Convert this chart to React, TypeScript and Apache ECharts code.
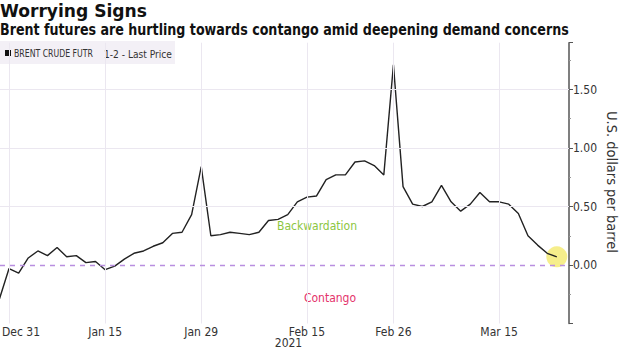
import React, { useEffect, useRef } from "react";
import * as echarts from "echarts";

const dates = [
  "Dec 30", "Dec 31",
  "Jan 4", "Jan 5", "Jan 6", "Jan 7", "Jan 8",
  "Jan 11", "Jan 12", "Jan 13", "Jan 14", "Jan 15",
  "Jan 18", "Jan 19", "Jan 20", "Jan 21", "Jan 22",
  "Jan 25", "Jan 26", "Jan 27", "Jan 28", "Jan 29",
  "Feb 1", "Feb 2", "Feb 3", "Feb 4", "Feb 5",
  "Feb 8", "Feb 9", "Feb 10", "Feb 11", "Feb 12",
  "Feb 15", "Feb 16", "Feb 17", "Feb 18", "Feb 19",
  "Feb 22", "Feb 23", "Feb 24", "Feb 25", "Feb 26",
  "Mar 1", "Mar 2", "Mar 3", "Mar 4", "Mar 5",
  "Mar 8", "Mar 9", "Mar 10", "Mar 11", "Mar 12",
  "Mar 15", "Mar 16", "Mar 17", "Mar 18", "Mar 19",
  "Mar 22", "Mar 23",
];

const spread = [
  -0.29, -0.03,
  -0.07, 0.06, 0.12, 0.08, 0.15,
  0.07, 0.08, 0.02, 0.03, -0.04,
  -0.01, 0.05, 0.10, 0.12, 0.16,
  0.19, 0.27, 0.28, 0.43, 0.84,
  0.25, 0.26, 0.28, 0.27, 0.26,
  0.28, 0.38, 0.39, 0.43, 0.54,
  0.58, 0.59, 0.73, 0.77, 0.77,
  0.88, 0.89, 0.85, 0.77, 1.71,
  0.67, 0.52, 0.50, 0.54, 0.68,
  0.54, 0.46, 0.52, 0.62, 0.54,
  0.54, 0.52, 0.44, 0.25, 0.17,
  0.10, 0.07,
];

const tickDates = ["Dec 31", "Jan 15", "Jan 29", "Feb 15", "Feb 26", "Mar 15"];
const yGridValues = [0.5, 1.0, 1.5];

const title = "Worrying Signs";
const subtitle = "Brent futures are hurtling towards contango amid deepening demand concerns";
const seriesName = "BRENT CRUDE FUTR";
const seriesField = "1-2 - Last Price";
const yName = "U.S. dollars per barrel";
const yearLabel = "2021";

const FONT = "'DejaVu Sans Condensed', 'DejaVu Sans', sans-serif";
const BOLD = "'DejaVu Sans Condensed', 'DejaVu Sans', sans-serif";

function fitScale(text: string, font: string, target: number): number {
  const c = document.createElement("canvas");
  const ctx = c.getContext("2d");
  if (!ctx) return 1;
  ctx.font = font;
  const w = ctx.measureText(text).width;
  return w > 0 ? target / w : 1;
}

export default function App() {
  const ref = useRef<HTMLDivElement>(null);

  useEffect(() => {
    if (!ref.current) return;
    const chart = echarts.init(ref.current, null, { renderer: "svg" });
    const tickIdx = tickDates.map((d) => dates.indexOf(d));
    const lineData = spread.map((v, i) => [i, v]);
    const last = lineData[lineData.length - 1];

    const gridLine = { color: "#ebe7f0", width: 1, type: "solid" };

    const titleFont = `bold 18.5px ${BOLD}`;
    const subFont = `bold 15px ${BOLD}`;
    const legFont = `10.5px ${FONT}`;

    const textEl = (text: string, font: string, x: number, y: number, target: number, fill: string) => ({
      type: "text",
      x,
      y,
      scaleX: fitScale(text, font, target),
      style: { text, font, fill, textAlign: "left", textVerticalAlign: "middle" },
    });

    chart.setOption({
      animation: false,
      backgroundColor: "#ffffff",
      grid: {
        left: 0,
        right: 51,
        top: 42.7,
        bottom: 27.5,
        containLabel: false,
        outerBoundsMode: "none",
      },
      xAxis: {
        type: "value",
        min: 0.06,
        max: 59.27,
        axisLine: { show: false },
        axisTick: { show: false },
        splitLine: { show: false },
        axisLabel: {
          customValues: tickIdx,
          margin: 2,
          fontSize: 12,
          fontFamily: FONT,
          color: "#333",
          formatter: (v: number) => {
            const i = Math.round(v);
            return i === tickIdx[0] ? `{first|${dates[i]}}` : dates[i] || "";
          },
          rich: {
            first: { padding: [0, 0, 0, 24], fontSize: 12, fontFamily: FONT, color: "#333" },
          },
        },
      },
      yAxis: {
        type: "value",
        position: "right",
        min: -0.5,
        max: 1.9,
        interval: 0.5,
        axisLine: { show: true, onZero: false, lineStyle: { color: "#555", width: 1.5 } },
        axisTick: { show: true, length: 4, lineStyle: { color: "#555" } },
        minorTick: { show: true, splitNumber: 2, length: 2, lineStyle: { color: "#999" } },
        splitLine: { show: false },
        axisLabel: {
          margin: 4,
          fontSize: 12,
          fontFamily: FONT,
          color: "#333",
          formatter: (v: number) => (v < -0.01 || v > 1.8 ? "" : v.toFixed(2)),
        },
      },
      graphic: [
        textEl(title, titleFont, 0, 11, 147, "#111"),
        textEl(subtitle, subFont, 0, 29.5, 569, "#111"),
        {
          type: "rect",
          shape: { x: 0, y: 41, width: 175, height: 23 },
          style: { fill: "#f3f0f6" },
          z: 0,
        },
        {
          type: "rect",
          shape: { x: 5, y: 50, width: 6, height: 6 },
          style: { fill: "#111" },
        },
        textEl(seriesName, legFont, 14, 53.5, 79, "#333"),
        textEl(seriesField, legFont, 104, 53.5, 68, "#333"),
        {
          type: "text",
          x: 612,
          y: 182,
          rotation: -Math.PI / 2,
          style: { text: yName, font: `14.5px ${FONT}`, fill: "#333", textAlign: "center", textVerticalAlign: "middle" },
        },
        {
          type: "text",
          x: 317,
          y: 226,
          style: { text: "Backwardation", font: `12px ${FONT}`, fill: "#8cc63f", textAlign: "center", textVerticalAlign: "middle" },
        },
        {
          type: "text",
          x: 330,
          y: 298,
          style: { text: "Contango", font: `12px ${FONT}`, fill: "#e4336b", textAlign: "center", textVerticalAlign: "middle" },
        },
        {
          type: "text",
          x: 288.5,
          y: 343,
          style: { text: yearLabel, font: `12px ${FONT}`, fill: "#333", textAlign: "center", textVerticalAlign: "middle" },
        },
      ],
      series: [
        {
          name: "grid",
          type: "line",
          data: [],
          z: 1,
          silent: true,
          markLine: {
            silent: true,
            symbol: ["none", "none"],
            label: { show: false },
            animation: false,
            data: [
              ...tickIdx.map((i) => ({ xAxis: i, lineStyle: gridLine })),
              ...yGridValues.map((v) => ({ yAxis: v, lineStyle: gridLine })),
              { yAxis: 0, lineStyle: { color: "#b98ee0", width: 1.3, type: [5, 5] } },
            ],
          },
        },
        {
          name: "marker",
          type: "scatter",
          data: [last],
          z: 2,
          symbolSize: 21,
          silent: true,
          itemStyle: { color: "#f5ec7e", opacity: 0.9 },
        },
        {
          name: seriesName,
          type: "line",
          data: lineData,
          z: 3,
          showSymbol: false,
          clip: true,
          lineStyle: { color: "#222", width: 1.4 },
        },
      ],
    });
    return () => chart.dispose();
  }, []);

  return (
    <div
      ref={ref}
      style={{ position: "fixed", left: 0, top: 0, width: 620, height: 351 }}
    />
  );
}
